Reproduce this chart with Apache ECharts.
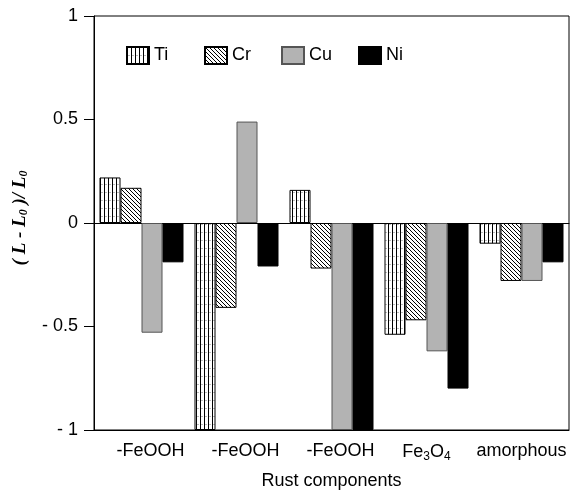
<!DOCTYPE html>
<html>
<head>
<meta charset="utf-8">
<script src="https://cdn.jsdelivr.net/npm/echarts@6/dist/echarts.min.js"></script>
<style>
html,body{margin:0;padding:0;background:#fff;}
#c{width:576px;height:495px;}
</style>
</head>
<body>
<div id="c"></div>
<script>
const categories = ['-FeOOH', '-FeOOH', '-FeOOH', 'Fe3O4', 'amorphous'];
const ti = [0.22, -1, 0.16, -0.54, -0.10];
const cr = [0.17, -0.41, -0.22, -0.47, -0.28];
const cu = [-0.53, 0.49, -1, -0.62, -0.28];
const ni = [-0.19, -0.21, -1, -0.80, -0.19];
const yTicks = [-1, -0.5, 0, 0.5, 1];

function makePattern(w, h, draw) {
  const c = document.createElement('canvas');
  c.width = w; c.height = h;
  const ctx = c.getContext('2d');
  ctx.fillStyle = '#fff';
  ctx.fillRect(0, 0, w, h);
  draw(ctx);
  return { image: c, repeat: 'repeat' };
}
const tiPattern = makePattern(4, 8, ctx => {
  ctx.fillStyle = '#bbb';
  ctx.fillRect(1, 0, 2, 1);
  ctx.fillStyle = '#000';
  ctx.fillRect(0, 0, 1, 8);
});
const crPattern = makePattern(4, 4, ctx => {
  ctx.fillStyle = '#000';
  for (let i = 0; i < 4; i++) ctx.fillRect(i, i, 1, 1);
});

const chart = echarts.init(document.getElementById('c'), null, {renderer: 'canvas'});
const font = 'Liberation Sans, Arial, sans-serif';

function catLabel(name) {
  if (name.indexOf('FeOOH') >= 0) return { value: name, textStyle: { padding: [0, 0, 0, 18] } };
  return { value: name };
}

const barCommon = { type: 'bar', barWidth: 21, barGap: '0%', xAxisIndex: 0 };

function legendAt(name, left) {
  return {
    data: [{ name: name, icon: 'rect' }], left: left, top: 41, itemWidth: 22, itemHeight: 17, itemGap: 0,
    textStyle: { fontFamily: font, fontSize: 18, color: '#000' },
    selectedMode: false
  };
}

chart.setOption({
  animation: false,
  backgroundColor: '#fff',
  grid: { left: 94, right: 7, top: 16, bottom: 64, show: true, borderColor: '#000', borderWidth: 1 },
  legend: [legendAt('Ti', 121), legendAt('Cr', 199), legendAt('Cu', 276), legendAt('Ni', 353)],
  xAxis: [{
    type: 'category',
    data: categories.map(catLabel),
    position: 'bottom',
    boundaryGap: true,
    axisLine: { onZero: false, lineStyle: { color: '#000', width: 1 } },
    axisTick: { alignWithLabel: true, length: 9, lineStyle: { color: '#000' } },
    axisLabel: {
      margin: 12, fontFamily: font, fontSize: 18, color: '#000', interval: 0,
      formatter: v => v === 'Fe3O4' ? 'Fe{s|3}O{s|4}' : v,
      rich: { s: { fontFamily: font, fontSize: 12, color: '#000', padding: [9, 0, 0, 0] } }
    },
    name: 'Rust components',
    nameLocation: 'middle',
    nameGap: 42,
    nameTextStyle: { fontFamily: font, fontSize: 18, color: '#000' }
  }, {
    type: 'category',
    data: categories,
    position: 'bottom',
    axisLine: { onZero: true, lineStyle: { color: '#000', width: 1 } },
    axisTick: { show: false },
    axisLabel: { show: false }
  }],
  yAxis: {
    type: 'value',
    min: -1, max: 1, interval: 0.5,
    splitLine: { show: false },
    axisLine: { show: true, lineStyle: { color: '#000' } },
    axisTick: { show: true, length: 10, lineStyle: { color: '#000' } },
    axisLabel: {
      margin: 16, fontFamily: font, fontSize: 18, color: '#000',
      formatter: v => (yTicks.indexOf(v) >= 0 ? (v < 0 ? '- ' + Math.abs(v) : String(v)) : '')
    }
  },
  graphic: [{
    type: 'text',
    x: 20, y: 218,
    rotation: Math.PI / 2,
    style: {
      text: '{t|( }{i|L}{t| - }{i|L}{s|0}{t| )/ }{i|L}{s|0}',
      align: 'center', verticalAlign: 'middle',
      rich: {
        t: { fontFamily: 'Liberation Serif, Times New Roman, serif', fontWeight: 'bold', fontStyle: 'italic', fontSize: 19, fill: '#000' },
        i: { fontFamily: 'Liberation Serif, Times New Roman, serif', fontWeight: 'bold', fontStyle: 'italic', fontSize: 19, fill: '#000' },
        s: { fontFamily: 'Liberation Serif, Times New Roman, serif', fontWeight: 'bold', fontStyle: 'italic', fontSize: 12, fill: '#000', padding: [8, 0, 0, 0] }
      }
    }
  }],
  series: [
    Object.assign({ name: 'Ti', data: ti, itemStyle: { color: tiPattern, borderColor: '#000', borderWidth: 1 } }, barCommon),
    Object.assign({ name: 'Cr', data: cr, itemStyle: { color: crPattern, borderColor: '#000', borderWidth: 1 } }, barCommon),
    Object.assign({ name: 'Cu', data: cu, itemStyle: { color: '#b3b3b3', borderColor: '#555', borderWidth: 1 } }, barCommon),
    Object.assign({ name: 'Ni', data: ni, itemStyle: { color: '#000', borderColor: '#000', borderWidth: 1 } }, barCommon)
  ]
});
</script>
</body>
</html>
